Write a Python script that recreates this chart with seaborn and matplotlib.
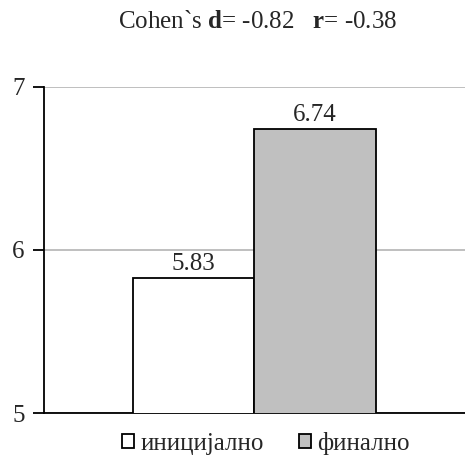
import matplotlib
matplotlib.use("Agg")
import matplotlib.pyplot as plt
import seaborn as sns
import pandas as pd

series = ["иницијално", "финално"]
values = [5.83, 6.74]
group = ["all", "all"]
colors = ["#ffffff", "#c0c0c0"]

sns.set_theme(style="white")
plt.rcParams["font.family"] = ["Liberation Serif", "DejaVu Serif"]
plt.rcParams["mathtext.fontset"] = "custom"
plt.rcParams["mathtext.rm"] = "Liberation Serif"
plt.rcParams["mathtext.bf"] = "Liberation Serif:bold"

FS = 18

df = pd.DataFrame({"group": group, "series": series, "value": values})

fig = plt.figure(figsize=(4.65, 4.66), dpi=100)
ax = fig.add_axes([0.0946, 0.1137, 0.9054, 0.7])

sns.barplot(data=df, x="group", y="value", hue="series", palette=colors,
            width=0.577, edgecolor="black", linewidth=1.3, ax=ax,
            legend=True, zorder=3)

ax.set_ylim(5, 7)
ax.set_xlim(-0.5, 0.5)
ax.set_yticks([5, 6, 7])
ax.set_yticklabels(["5", "6", "7"], fontsize=FS)
ax.set_xticks([])
ax.set_xlabel("")
ax.set_ylabel("")
ax.yaxis.grid(True, color="#b4b4b4", linewidth=1.2, zorder=0)
ax.set_axisbelow(True)
ax.tick_params(axis="y", left=True, length=8, width=1.3, color="black", pad=6)
for s in ["top", "right"]:
    ax.spines[s].set_visible(False)
for s in ["left", "bottom"]:
    ax.spines[s].set_color("black")
    ax.spines[s].set_linewidth(1.3)

for cont in ax.containers:
    ax.bar_label(cont, fmt="%.2f", padding=2, fontsize=FS)

handles, labels = ax.get_legend_handles_labels()
ax.legend(handles, labels, loc="upper center", bbox_to_anchor=(0.527, -0.005),
          ncol=2, frameon=False, fontsize=FS, handlelength=0.5,
          handleheight=0.5, handletextpad=0.25, columnspacing=1.4,
          borderpad=0.2)

# Title with bold effect-size symbols
fig.text(0.555, 0.952, r"Cohen`s $\mathbf{d}$= -0.82   $\mathbf{r}$= -0.38",
         ha="center", va="center", fontsize=FS)

fig.savefig("out.png", dpi=100)
